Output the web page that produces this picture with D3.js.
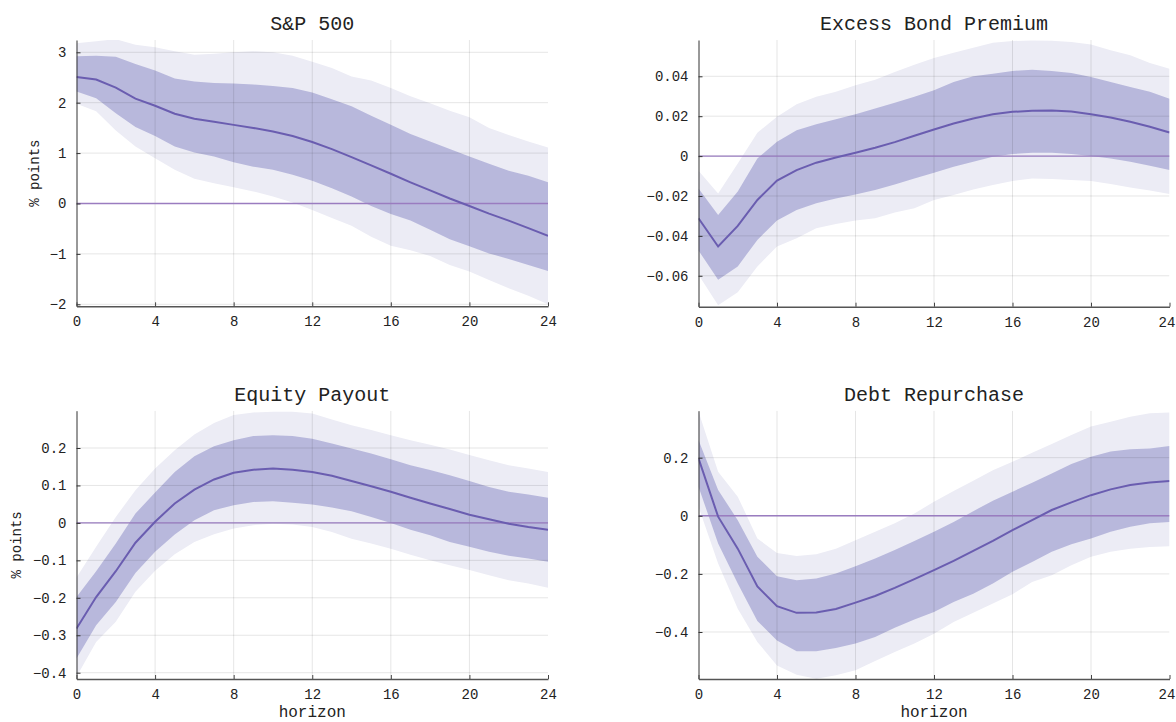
<!DOCTYPE html>
<html>
<head>
<meta charset="utf-8">
<script src="https://cdn.jsdelivr.net/npm/d3@7"></script>
<style>
  body { margin: 0; background: #fff; }
  svg { display: block; }
  text { font-family: "Courier New", "Liberation Mono", monospace; fill: #222; }
</style>
</head>
<body>
<svg id="chart" width="1176" height="722"></svg>
<script>
// horizons 0..24
const horizon = [0,1,2,3,4,5,6,7,8,9,10,11,12,13,14,15,16,17,18,19,20,21,22,23,24]
const xTicks = [0, 4, 8, 12, 16, 20, 24]

// S&P 500
const spMedian  = [2.51,2.46,2.30,2.08,1.94,1.78,1.68,1.62,1.56,1.50,1.43,1.34,1.22,1.08,0.92,0.755,0.59,0.42,0.26,0.10,-0.05,-0.20,-0.34,-0.49,-0.64]
const spInnerHi = [2.92,2.93,2.91,2.77,2.64,2.48,2.42,2.39,2.38,2.36,2.33,2.29,2.20,2.07,1.93,1.74,1.56,1.38,1.23,1.08,0.93,0.79,0.65,0.55,0.42]
const spInnerLo = [2.22,2.09,1.79,1.52,1.34,1.13,1.01,0.93,0.82,0.73,0.67,0.57,0.45,0.30,0.14,-0.05,-0.21,-0.34,-0.52,-0.71,-0.85,-0.99,-1.10,-1.22,-1.34]
const spOuterHi = [3.18,3.22,3.26,3.15,3.10,3.02,2.95,2.97,3.00,3.02,3.00,2.93,2.81,2.69,2.52,2.44,2.29,2.13,1.99,1.84,1.71,1.50,1.36,1.23,1.11]
const spOuterLo = [1.98,1.83,1.45,1.13,0.90,0.67,0.49,0.40,0.32,0.24,0.14,0.02,-0.13,-0.29,-0.44,-0.66,-0.84,-0.93,-1.04,-1.22,-1.35,-1.52,-1.68,-1.83,-2.00]
const spTicks = [-2, -1, 0, 1, 2, 3]

// Excess Bond Premium
const ebpMedian  = [-0.0312,-0.0453,-0.035,-0.022,-0.0123,-0.007,-0.0033,-0.0007,0.0017,0.0042,0.007,0.0102,0.0133,0.0163,0.0188,0.021,0.0222,0.0227,0.0228,0.0223,0.021,0.0193,0.0172,0.0147,0.0118]
const ebpInnerHi = [-0.0162,-0.0295,-0.0178,-0.0012,0.0072,0.013,0.016,0.0185,0.021,0.0238,0.0267,0.0297,0.033,0.0372,0.040,0.0413,0.0427,0.0433,0.0427,0.0417,0.0397,0.0372,0.0347,0.0322,0.0288]
const ebpInnerLo = [-0.0473,-0.062,-0.0553,-0.042,-0.0323,-0.027,-0.0237,-0.0212,-0.0192,-0.017,-0.0142,-0.0112,-0.0083,-0.0053,-0.0028,-0.0003,0.001,0.0017,0.0017,0.001,0,-0.0012,-0.0028,-0.0048,-0.007]
const ebpOuterHi = [-0.0073,-0.0187,-0.0037,0.0117,0.0197,0.026,0.0297,0.0322,0.0355,0.0383,0.0422,0.0458,0.0492,0.0518,0.0543,0.0568,0.0577,0.058,0.0578,0.0572,0.056,0.053,0.0505,0.0467,0.0438]
const ebpOuterLo = [-0.0595,-0.0748,-0.0683,-0.0553,-0.0453,-0.0412,-0.0362,-0.034,-0.0323,-0.0312,-0.0283,-0.0262,-0.022,-0.0195,-0.0167,-0.0145,-0.0125,-0.0112,-0.0115,-0.012,-0.0125,-0.014,-0.0157,-0.0173,-0.019]
const ebpTicks = [-0.06, -0.04, -0.02, 0, 0.02, 0.04]

// Equity Payout
const eqMedian  = [-0.282,-0.198,-0.129,-0.053,0.003,0.052,0.089,0.116,0.134,0.142,0.145,0.142,0.136,0.126,0.112,0.098,0.083,0.067,0.052,0.037,0.022,0.010,-0.002,-0.011,-0.018]
const eqInnerHi = [-0.198,-0.129,-0.055,0.025,0.081,0.136,0.178,0.205,0.221,0.232,0.234,0.232,0.225,0.212,0.199,0.185,0.170,0.154,0.141,0.127,0.112,0.096,0.083,0.076,0.067]
const eqInnerLo = [-0.362,-0.273,-0.211,-0.134,-0.077,-0.031,0.007,0.034,0.047,0.056,0.058,0.054,0.049,0.041,0.031,0.016,0,-0.018,-0.033,-0.051,-0.064,-0.077,-0.088,-0.095,-0.104]
const eqOuterHi = [-0.146,-0.064,0.016,0.087,0.145,0.194,0.236,0.267,0.288,0.295,0.297,0.297,0.292,0.276,0.261,0.248,0.234,0.221,0.209,0.196,0.181,0.167,0.154,0.145,0.136]
const eqOuterLo = [-0.411,-0.318,-0.264,-0.184,-0.128,-0.084,-0.051,-0.030,-0.015,-0.006,-0.002,-0.004,-0.011,-0.024,-0.042,-0.055,-0.069,-0.085,-0.100,-0.113,-0.126,-0.140,-0.153,-0.162,-0.173]
const eqTicks = [-0.4, -0.3, -0.2, -0.1, 0, 0.1, 0.2]

// Debt Repurchase
const drMedian  = [0.198,-0.003,-0.113,-0.243,-0.311,-0.334,-0.333,-0.321,-0.299,-0.276,-0.248,-0.218,-0.187,-0.155,-0.121,-0.086,-0.049,-0.015,0.020,0.046,0.071,0.091,0.106,0.115,0.120]
const drInnerHi = [0.261,0.089,-0.015,-0.141,-0.208,-0.222,-0.216,-0.199,-0.174,-0.147,-0.118,-0.087,-0.055,-0.021,0.016,0.052,0.083,0.114,0.146,0.178,0.203,0.221,0.229,0.232,0.240]
const drInnerLo = [0.100,-0.095,-0.233,-0.362,-0.429,-0.466,-0.466,-0.455,-0.440,-0.417,-0.385,-0.357,-0.331,-0.297,-0.268,-0.233,-0.193,-0.159,-0.124,-0.098,-0.078,-0.055,-0.038,-0.026,-0.021]
const drOuterHi = [0.359,0.152,0.066,-0.078,-0.128,-0.138,-0.132,-0.113,-0.084,-0.055,-0.026,0.008,0.048,0.085,0.121,0.157,0.186,0.217,0.247,0.278,0.307,0.324,0.341,0.353,0.356]
const drOuterLo = [0.031,-0.164,-0.320,-0.434,-0.515,-0.547,-0.561,-0.549,-0.532,-0.500,-0.469,-0.440,-0.406,-0.366,-0.334,-0.302,-0.270,-0.228,-0.205,-0.170,-0.141,-0.124,-0.113,-0.107,-0.105]
const drTicks = [-0.4, -0.2, 0, 0.2]


const svg = d3.select("#chart")
const monoFont = '"Courier New", "Liberation Mono", monospace'
const pageWidth = 1176

// panel layout: plot box + y range shown
const panels = [
    { id: "sp", title: "S&P 500", left: 76.5, right: 548, top: 40, bottom: 306.3, yDomain: [-2.04, 3.244],
      med: spMedian, inHi: spInnerHi, inLo: spInnerLo, outHi: spOuterHi, outLo: spOuterLo, ticks: spTicks, fmt: d3.format("d"),
      ylabel: "% points", ylabelX: 35, xlabel: null },
    { id: "ebp", title: "Excess Bond Premium", left: 698.5, right: 1169.5, top: 40, bottom: 306.7, yDomain: [-0.0755, 0.0582],
      med: ebpMedian, inHi: ebpInnerHi, inLo: ebpInnerLo, outHi: ebpOuterHi, outLo: ebpOuterLo, ticks: ebpTicks, fmt: d3.format(".2f"),
      ylabel: null, xlabel: null },
    { id: "eq", title: "Equity Payout", left: 76.5, right: 548, top: 410.7, bottom: 679, yDomain: [-0.4168, 0.2996],
      med: eqMedian, inHi: eqInnerHi, inLo: eqInnerLo, outHi: eqOuterHi, outLo: eqOuterLo, ticks: eqTicks, fmt: d3.format(".1f"),
      ylabel: "% points", ylabelX: 17, xlabel: "horizon" },
    { id: "dr", title: "Debt Repurchase", left: 698.5, right: 1169.5, top: 410.7, bottom: 679, yDomain: [-0.5618, 0.3618],
      med: drMedian, inHi: drInnerHi, inLo: drInnerLo, outHi: drOuterHi, outLo: drOuterLo, ticks: drTicks, fmt: d3.format(".1f"),
      ylabel: null, xlabel: "horizon" }
]

function drawPanel(p) {
    let x = d3.scaleLinear().domain([0, 24]).range([p.left, p.right])
    let y = d3.scaleLinear().domain(p.yDomain).range([p.bottom, p.top])
    let g = svg.append("g")

    // clip so bands stay in the box
    svg.append("clipPath").attr("id", "clip-" + p.id)
        .append("rect")
        .attr("x", p.left).attr("y", p.top)
        .attr("width", p.right - p.left).attr("height", p.bottom - p.top)

    let plot = g.append("g").attr("clip-path", `url(#clip-${p.id})`)

    let band = (lo, hi) => d3.area()
        .x((d, i) => x(horizon[i]))
        .y0((d, i) => y(lo[i]))
        .y1((d, i) => y(hi[i]))

    plot.append("path").datum(horizon)
        .attr("d", band(p.outLo, p.outHi))
        .attr("fill", "#ececf5")

    plot.append("path").datum(horizon)
        .attr("d", band(p.inLo, p.inHi))
        .attr("fill", "#b8b8dc")

    // grid on top, faint
    plot.append("g").selectAll("line")
        .data(xTicks.slice(1, -1))
        .join("line")
        .attr("x1", d => x(d)).attr("x2", d => x(d))
        .attr("y1", p.top).attr("y2", p.bottom)
        .attr("stroke", "rgba(0,0,0,0.1)")
        .attr("stroke-width", 1)

    plot.append("g").selectAll("line")
        .data(p.ticks)
        .join("line")
        .attr("x1", p.left).attr("x2", p.right)
        .attr("y1", d => y(d)).attr("y2", d => y(d))
        .attr("stroke", "rgba(0,0,0,0.1)")
        .attr("stroke-width", 1)

    // zero line
    plot.append("line")
        .attr("x1", p.left).attr("x2", p.right)
        .attr("y1", y(0)).attr("y2", y(0))
        .attr("stroke", "#9a7cc0")
        .attr("stroke-width", 1.4)

    // median response
    plot.append("path").datum(p.med)
        .attr("d", d3.line().x((d, i) => x(horizon[i])).y(d => y(d)))
        .attr("fill", "none")
        .attr("stroke", "#6a5db0")
        .attr("stroke-width", 2)

    // axes, ticks drawn inward
    let fmt = d => d === 0 ? "0" : p.fmt(d)

    g.append("g")
        .attr("transform", `translate(${p.left},0)`)
        .call(d3.axisLeft(y).tickValues(p.ticks).tickFormat(fmt).tickSizeInner(-4).tickSizeOuter(0).tickPadding(10))
        .call(a => a.select(".domain").attr("stroke", "#333"))
        .call(a => a.selectAll(".tick line").attr("stroke", "#333"))
        .call(a => a.selectAll("text").attr("font-size", 14).attr("fill", "#333").attr("font-family", monoFont))

    g.append("g")
        .attr("transform", `translate(0,${p.bottom})`)
        .call(d3.axisBottom(x).tickValues(xTicks).tickFormat(d3.format("d")).tickSizeInner(-4).tickSizeOuter(0).tickPadding(10))
        .call(a => a.select(".domain").attr("stroke", "#555").attr("stroke-width", 1.5))
        .call(a => a.selectAll(".tick line").attr("stroke", "#444"))
        .call(a => a.selectAll("text").attr("font-size", 14).attr("fill", "#333").attr("font-family", monoFont))
        // last label sits right at the page edge, nudge it in
        .call(a => a.selectAll(".tick text").filter(d => x(d) + 9 > pageWidth).attr("dx", -3))

    // title
    g.append("text")
        .attr("x", (p.left + p.right) / 2)
        .attr("y", p.top - 10)
        .attr("text-anchor", "middle")
        .attr("font-size", 20)
        .text(p.title)

    if (p.ylabel) {
        g.append("text")
            .attr("transform", `translate(${p.ylabelX},${(p.top + p.bottom) / 2}) rotate(-90)`)
            .attr("text-anchor", "middle")
            .attr("dominant-baseline", "middle")
            .attr("font-size", 14)
            .text(p.ylabel)
    }

    if (p.xlabel) {
        g.append("text")
            .attr("x", (p.left + p.right) / 2)
            .attr("y", p.bottom + 38)
            .attr("text-anchor", "middle")
            .attr("font-size", 16)
            .text(p.xlabel)
    }
}

panels.forEach(drawPanel)
</script>
</body>
</html>
